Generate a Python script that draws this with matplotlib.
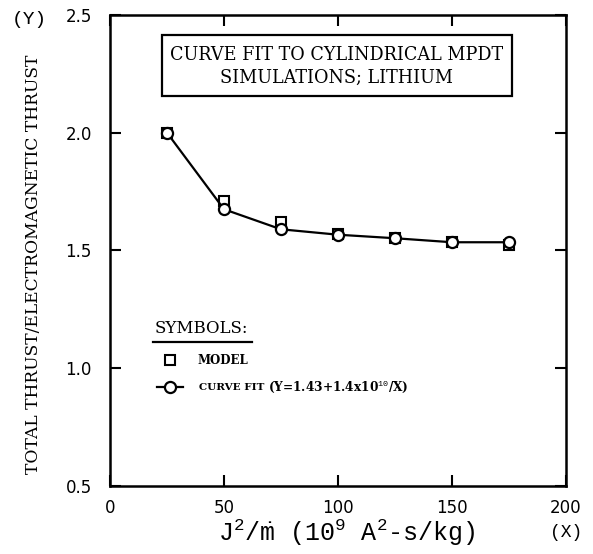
import matplotlib
matplotlib.use("Agg")
import matplotlib.pyplot as plt
from matplotlib.patches import Rectangle

plt.rcParams['mathtext.fontset'] = 'custom'
plt.rcParams['mathtext.rm'] = 'Liberation Mono'
plt.rcParams['mathtext.it'] = 'Liberation Mono'
plt.rcParams['mathtext.bf'] = 'Liberation Mono:bold'

# J^2/mdot (10^9 A^2-s/kg)
x_vals = [25, 50, 75, 100, 125, 150, 175]
# thrust ratio from the simulation model
model_vals = [2.00, 1.71, 1.62, 1.57, 1.555, 1.535, 1.525]
# curve fit Y = 1.43 + 1.4e10/X
fit_vals = [2.00, 1.675, 1.59, 1.567, 1.552, 1.535, 1.535]

x_ticks = [0, 50, 100, 150, 200]
y_ticks = [0.5, 1.0, 1.5, 2.0, 2.5]

SERIF = 'DejaVu Serif'

fig = plt.figure(figsize=(5.93, 5.54), dpi=100)
ax = fig.add_axes([0.1855, 0.1227, 0.769, 0.8503])
ax.set_xlim(0, 200)
ax.set_ylim(0.5, 2.5)
ax.set_xticks(x_ticks)
ax.set_yticks(y_ticks)
ax.set_xticklabels([str(v) for v in x_ticks], fontsize=12, family='DejaVu Sans')
ax.set_yticklabels([f"{v:.1f}" for v in y_ticks], fontsize=12, family='DejaVu Sans')
ax.tick_params(direction='in', length=8, width=1.5, top=True, right=True)
ax.tick_params(axis='y', pad=13)
ax.tick_params(axis='x', pad=9)
for s in ax.spines.values():
    s.set_linewidth(1.8)

ax.plot(x_vals, model_vals, linestyle='none', marker='s', markersize=7,
        markerfacecolor='white', markeredgecolor='black', markeredgewidth=1.5, zorder=3)
ax.plot(x_vals, fit_vals, color='black', linewidth=1.6, marker='o', markersize=8,
        markerfacecolor='white', markeredgecolor='black', markeredgewidth=1.6, zorder=4)

# title box
ax.add_patch(Rectangle((22.8, 2.155), 153.5, 0.26, transform=ax.transData,
                       fill=False, edgecolor='black', linewidth=1.6, zorder=5))
ax.text(99.5, 2.33, "CURVE FIT TO CYLINDRICAL MPDT", ha='center', va='center',
        fontsize=12.7, family=SERIF)
ax.text(99.5, 2.235, "SIMULATIONS; LITHIUM", ha='center', va='center',
        fontsize=12.7, family=SERIF)

# symbol key
ax.text(19.7, 1.17, "SYMBOLS:", ha='left', va='center', fontsize=12, family=SERIF)
ax.plot([18.9, 62.3], [1.11, 1.11], color='black', linewidth=1.6)
ax.plot([26.3], [1.034], marker='s', markersize=7, markerfacecolor='white',
        markeredgecolor='black', markeredgewidth=1.5, linestyle='none')
ax.text(38.2, 1.034, "MODEL", ha='left', va='center', fontsize=8.5, fontweight='bold',
        family='DejaVu Serif')
ax.plot([20.6, 32.0], [0.92, 0.92], color='black', linewidth=1.6)
ax.plot([26.3], [0.92], marker='o', markersize=8, markerfacecolor='white',
        markeredgecolor='black', markeredgewidth=1.6, linestyle='none')
ax.text(39, 0.92, "CURVE FIT", ha='left', va='center', fontsize=7.5, fontweight='bold',
        family='DejaVu Serif')
ax.text(69.5, 0.92, r"(Y=1.43+1.4x10$^{10}$/X)", ha='left', va='center', fontsize=8.7,
        fontweight='bold', family='DejaVu Serif')

# axis labels
fig.text(0.056, 0.522, "TOTAL THRUST/ELECTROMAGNETIC THRUST", rotation=90,
         ha='center', va='center', fontsize=12.3, family=SERIF)
fig.text(0.584, 0.038, r"J$^2$/$\dot{\rm m}$ (10$^9$ A$^2$-s/kg)", ha='center', va='center',
         fontsize=18, family='Liberation Mono')
fig.text(0.049, 0.964, "(Y)", ha='center', va='center', fontsize=14, family='Liberation Mono')
fig.text(0.955, 0.038, "(X)", ha='center', va='center', fontsize=13, family='Liberation Mono')

fig.savefig("out.png", dpi=100)
